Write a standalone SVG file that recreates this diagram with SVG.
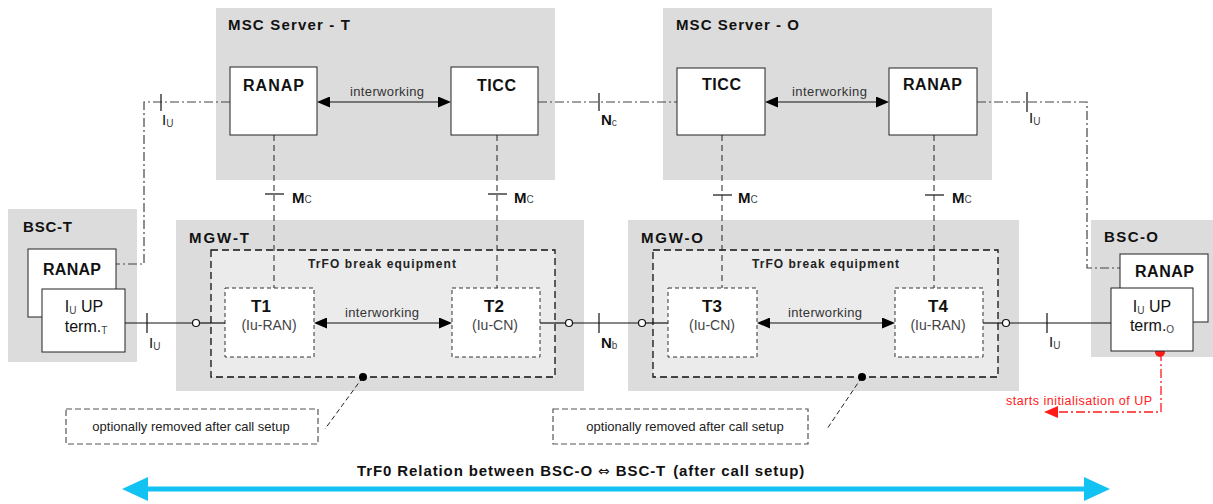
<svg xmlns="http://www.w3.org/2000/svg" width="1213" height="504" viewBox="0 0 1213 504">
<style>
text{font-family:"Liberation Sans",Arial,sans-serif;}
.grp{fill:#dcdcdc;stroke:none;}
.box{fill:#fff;stroke:#222;stroke-width:1;}
.title{font-size:15px;font-weight:bold;fill:#111;}
.bn{font-size:16px;font-weight:bold;fill:#111;}
.iw{font-size:13px;fill:#333;}
.tr{font-size:12px;font-weight:bold;fill:#222;}
.tn{font-size:17px;font-weight:bold;fill:#111;text-anchor:middle;}
.ts{font-size:14px;fill:#444;text-anchor:middle;}
.trfo{fill:#ebebeb;stroke:#111;stroke-width:1.3;stroke-dasharray:7 4;}
.tbox{fill:#fff;stroke:#333;stroke-width:1;stroke-dasharray:4 3;}
.dd{fill:none;stroke:#444;stroke-width:1.2;stroke-dasharray:9 3 2 3;}
.mc{fill:none;stroke:#222;stroke-width:1;stroke-dasharray:6 4;}
.solid{fill:none;stroke:#111;stroke-width:1.2;}
.tick{stroke:#111;stroke-width:1.2;}
.lbl{font-size:15px;fill:#111;}
.lblb{font-size:15px;font-weight:bold;fill:#111;}
.sub{font-size:10px;font-weight:normal;fill:#444;}
.circ{fill:#fff;stroke:#111;stroke-width:1.2;}
.note{fill:#fff;stroke:#555;stroke-width:1.2;stroke-dasharray:6 3;}
.nt{font-size:13px;fill:#222;text-anchor:middle;}
.lead{fill:none;stroke:#222;stroke-width:1;stroke-dasharray:5 3;}
</style>
<defs>
<marker id="ah" viewBox="0 0 13 11" refX="0" refY="5.5" markerWidth="13" markerHeight="11" markerUnits="userSpaceOnUse" orient="auto-start-reverse"><path d="M0,0 L13,5.5 L0,11 z" fill="#000"/></marker>
<marker id="ahr" viewBox="0 0 14 12" refX="0" refY="6" markerWidth="14" markerHeight="12" markerUnits="userSpaceOnUse" orient="auto"><path d="M0,0 L14,6 L0,12 z" fill="#ff1a1a"/></marker>
<marker id="ahc" viewBox="0 0 26 24" refX="0" refY="12" markerWidth="26" markerHeight="24" markerUnits="userSpaceOnUse" orient="auto-start-reverse"><path d="M0,0 L26,12 L0,24 z" fill="#12c2f2"/></marker>
</defs>

<!-- containers -->
<g id="msc-t">
<rect class="grp" x="216" y="8" width="339" height="172"/>
<text class="title" x="228" y="30" textLength="122" lengthAdjust="spacing">MSC Server - T</text>
</g>
<g id="msc-o">
<rect class="grp" x="663" y="8" width="329" height="172"/>
<text class="title" x="676" y="30" textLength="123" lengthAdjust="spacing">MSC Server - O</text>
</g>
<g id="bsc-t">
<rect class="grp" x="8" y="209" width="129" height="153"/>
<text class="title" x="23" y="232" textLength="49" lengthAdjust="spacing">BSC-T</text>
</g>
<g id="mgw-t">
<rect class="grp" x="176" y="220" width="408" height="171"/>
<text class="title" x="189" y="243" textLength="60" lengthAdjust="spacing">MGW-T</text>
</g>
<g id="mgw-o">
<rect class="grp" x="628" y="220" width="391" height="171"/>
<text class="title" x="641" y="243" textLength="62" lengthAdjust="spacing">MGW-O</text>
</g>
<g id="bsc-o">
<rect class="grp" x="1091" y="220" width="122" height="137"/>
<text class="title" x="1104" y="242" textLength="54" lengthAdjust="spacing">BSC-O</text>
</g>

<!-- TrFO break equipment -->
<g id="trfo-t">
<rect class="trfo" x="211" y="250" width="344" height="127"/>
<text class="tr" x="308" y="268" textLength="148" lengthAdjust="spacing">TrFO break equipment</text>
</g>
<g id="trfo-o">
<rect class="trfo" x="653" y="250" width="345" height="127"/>
<text class="tr" x="752" y="268" textLength="147" lengthAdjust="spacing">TrFO break equipment</text>
</g>

<!-- connectors -->
<g id="connectors">
<path class="dd" d="M230,102 H144 V264 H116"/>
<line class="tick" x1="161" y1="94" x2="161" y2="111"/>
<text class="lbl" x="162" y="125">I<tspan class="sub" dy="2">U</tspan></text>
<path class="dd" d="M538,102 H677"/>
<line class="tick" x1="599" y1="93" x2="599" y2="111"/>
<text class="lblb" x="601" y="125">N<tspan class="sub" dy="1">c</tspan></text>
<path class="dd" d="M977,102 H1087 V268 H1120"/>
<line class="tick" x1="1027" y1="92" x2="1027" y2="112"/>
<text class="lbl" x="1029" y="123">I<tspan class="sub" dy="2">U</tspan></text>

<line class="solid" x1="330" y1="102" x2="438" y2="102" stroke-width="1.5" marker-start="url(#ah)" marker-end="url(#ah)"/>
<text class="iw" x="350" y="96" textLength="74" lengthAdjust="spacing">interworking</text>
<line class="solid" x1="778" y1="102" x2="876" y2="102" stroke-width="1.5" marker-start="url(#ah)" marker-end="url(#ah)"/>
<text class="iw" x="792" y="96" textLength="75" lengthAdjust="spacing">interworking</text>
<line class="solid" x1="327" y1="323" x2="439" y2="323" stroke-width="1.5" marker-start="url(#ah)" marker-end="url(#ah)"/>
<text class="iw" x="345" y="317" textLength="74" lengthAdjust="spacing">interworking</text>
<line class="solid" x1="770" y1="323" x2="882" y2="323" stroke-width="1.5" marker-start="url(#ah)" marker-end="url(#ah)"/>
<text class="iw" x="788" y="317" textLength="74" lengthAdjust="spacing">interworking</text>

<line class="mc" x1="274" y1="135" x2="274" y2="288"/>
<line class="tick" x1="265" y1="194" x2="284" y2="194"/>
<text class="lblb" x="292" y="203">M<tspan class="sub">C</tspan></text>
<line class="mc" x1="497" y1="135" x2="497" y2="288"/>
<line class="tick" x1="488" y1="194" x2="507" y2="194"/>
<text class="lblb" x="514" y="203">M<tspan class="sub">C</tspan></text>
<line class="mc" x1="722" y1="135" x2="722" y2="288" stroke-width="2" stroke-dasharray="8 4"/>
<line class="tick" x1="713" y1="195" x2="732" y2="195"/>
<text class="lblb" x="738" y="203">M<tspan class="sub">C</tspan></text>
<line class="mc" x1="934" y1="135" x2="934" y2="288"/>
<line class="tick" x1="925" y1="195" x2="944" y2="195"/>
<text class="lblb" x="952" y="203">M<tspan class="sub">C</tspan></text>

<line class="solid" x1="125" y1="323" x2="192.5" y2="323"/>
<line class="tick" x1="147" y1="313" x2="147" y2="333"/>
<text class="lbl" x="149" y="348">I<tspan class="sub" dy="2">U</tspan></text>
<line class="solid" x1="199.5" y1="323" x2="225" y2="323"/>
<line class="solid" x1="540" y1="323" x2="565.5" y2="323"/>
<line class="solid" x1="572.5" y1="323" x2="638.5" y2="323"/>
<line class="tick" x1="599" y1="313" x2="599" y2="333"/>
<text class="lblb" x="601" y="348">N<tspan class="sub" dy="1">b</tspan></text>
<line class="solid" x1="645.5" y1="323" x2="668" y2="323"/>
<line class="solid" x1="983" y1="323" x2="1002.5" y2="323"/>
<line class="solid" x1="1009.5" y1="323" x2="1111" y2="323"/>
<line class="tick" x1="1047" y1="313" x2="1047" y2="333"/>
<text class="lbl" x="1049" y="347">I<tspan class="sub" dy="2">U</tspan></text>
<circle class="circ" cx="196" cy="323" r="3.5"/>
<circle class="circ" cx="569" cy="323" r="3.5"/>
<circle class="circ" cx="642" cy="323" r="3.5"/>
<circle class="circ" cx="1006" cy="323" r="3.5"/>

<line class="lead" x1="363" y1="377" x2="325" y2="429"/>
<circle cx="363" cy="377" r="4" fill="#000"/>
<line class="lead" x1="862" y1="377" x2="827" y2="429"/>
<circle cx="862" cy="377" r="4" fill="#000"/>

<path d="M1161,352 V412 H1058" fill="none" stroke="#ff1a1a" stroke-width="1.3" stroke-dasharray="9 3 2 3" marker-end="url(#ahr)"/>
<circle cx="1160" cy="352" r="5" fill="#ff1a1a"/>
<text x="1006" y="405" font-size="12.5" fill="#ff2020" textLength="146" lengthAdjust="spacing">starts initialisation of UP</text>

<line x1="148" y1="489" x2="1084" y2="489" stroke="#12c2f2" stroke-width="5" marker-start="url(#ahc)" marker-end="url(#ahc)"/>
<text x="357" y="476" font-size="15" font-weight="bold" fill="#111" letter-spacing="0.9">TrF0 Relation between BSC-O <tspan font-family="'DejaVu Sans',sans-serif" font-weight="normal" font-size="14">⇔</tspan> BSC-T <tspan dx="2">(after call setup)</tspan></text>
</g>

<g id="ranap-t">
<rect class="box" x="230" y="67" width="87" height="68"/>
<text class="bn" x="243" y="91" textLength="61" lengthAdjust="spacing">RANAP</text>
</g>
<g id="ticc-t">
<rect class="box" x="451" y="67" width="87" height="68"/>
<text class="bn" x="477" y="91" textLength="39" lengthAdjust="spacing">TICC</text>
</g>
<g id="ticc-o">
<rect class="box" x="677" y="68" width="88" height="67"/>
<text class="bn" x="702" y="90" textLength="39" lengthAdjust="spacing">TICC</text>
</g>
<g id="ranap-o">
<rect class="box" x="889" y="68" width="88" height="67"/>
<text class="bn" x="903" y="90" textLength="59" lengthAdjust="spacing">RANAP</text>
</g>

<g id="bsc-t-ranap">
<rect class="box" x="28" y="249" width="88" height="68"/>
<text class="bn" x="43" y="275" textLength="58" lengthAdjust="spacing">RANAP</text>
</g>
<g id="bsc-t-term">
<rect class="box" x="42" y="289" width="83" height="63"/>
<text x="84" y="312" font-size="16" fill="#111" text-anchor="middle">I<tspan class="sub" dy="2">U</tspan><tspan dy="-2"> UP</tspan></text>
<text x="86" y="332" font-size="16" fill="#111" text-anchor="middle">term.<tspan class="sub" dy="2">T</tspan></text>
</g>

<g id="bsc-o-ranap">
<rect class="box" x="1120" y="254" width="88" height="68"/>
<text class="bn" x="1135" y="277" textLength="59" lengthAdjust="spacing">RANAP</text>
</g>
<g id="bsc-o-term">
<rect class="box" x="1111" y="288" width="82" height="63"/>
<text x="1152" y="312" font-size="16" fill="#111" text-anchor="middle">I<tspan class="sub" dy="2">U</tspan><tspan dy="-2"> UP</tspan></text>
<text x="1152" y="331" font-size="16" fill="#111" text-anchor="middle">term.<tspan class="sub" dy="2">O</tspan></text>
</g>

<g id="t1">
<rect class="tbox" x="225" y="288" width="89" height="69"/>
<text class="tn" x="261" y="312">T1</text>
<text class="ts" x="269" y="330">(Iu-RAN)</text>
</g>
<g id="t2">
<rect class="tbox" x="452" y="288" width="88" height="69"/>
<text class="tn" x="494" y="312">T2</text>
<text class="ts" x="495" y="330">(Iu-CN)</text>
</g>
<g id="t3">
<rect class="tbox" x="668" y="288" width="89" height="69"/>
<text class="tn" x="712" y="312">T3</text>
<text class="ts" x="712" y="330">(Iu-CN)</text>
</g>
<g id="t4">
<rect class="tbox" x="895" y="288" width="88" height="69"/>
<text class="tn" x="938" y="312">T4</text>
<text class="ts" x="938" y="330">(Iu-RAN)</text>
</g>

<g id="note-t">
<rect class="note" x="66" y="409" width="252" height="35"/>
<text class="nt" x="191" y="431">optionally removed after call setup</text>
</g>
<g id="note-o">
<rect class="note" x="553" y="409" width="255" height="35"/>
<text class="nt" x="685" y="431">optionally removed after call setup</text>
</g>
</svg>
